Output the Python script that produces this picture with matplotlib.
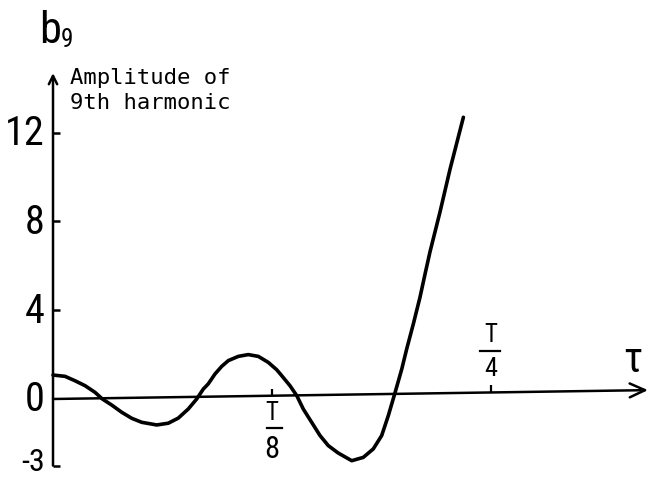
import numpy as np
import matplotlib
matplotlib.use("Agg")
import matplotlib.pyplot as plt

# b9 curve, tau given as a fraction of the period T
tau = [0.0, 0.0069, 0.0126, 0.0183, 0.0240, 0.0282, 0.0335, 0.0393, 0.0450, 0.0507,
       0.0593, 0.0659, 0.0716, 0.0773, 0.0821, 0.0859, 0.0887, 0.0926, 0.0964, 0.1002,
       0.1059, 0.1116, 0.1173, 0.1230, 0.1278, 0.1307, 0.1354, 0.1393, 0.1430, 0.1478,
       0.1526, 0.1573, 0.1629, 0.1707, 0.1773, 0.1830, 0.1878, 0.1916, 0.1954, 0.1993,
       0.2021, 0.2059, 0.2097, 0.2126, 0.2154, 0.2211, 0.2269, 0.2345]
b9 = [1.08, 1.02, 0.82, 0.60, 0.30, 0.00, -0.27, -0.60, -0.87, -1.05,
      -1.17, -1.09, -0.86, -0.45, 0.00, 0.45, 0.68, 1.13, 1.47, 1.73,
      1.92, 2.00, 1.92, 1.65, 1.32, 1.05, 0.60, 0.15, -0.45, -1.05,
      -1.65, -2.10, -2.43, -2.78, -2.63, -2.25, -1.65, -0.75, 0.27, 1.35,
      2.25, 3.38, 4.58, 5.63, 6.62, 8.41, 10.36, 12.69]

y_ticks = [12, 8, 4, 0, -3]
y_tick_labels = ["12", "8", "4", "0", "-3"]
x_ticks = [0.125, 0.25]
x_tick_denoms = ["8", "4"]

narrow = ["Roboto Condensed", "Liberation Sans", "DejaVu Sans"]
mono = ["DejaVu Sans Mono", "DejaVu Sans"]

fig = plt.figure(figsize=(6.49, 4.81), dpi=100)
ax = fig.add_axes([0, 0, 1, 1])
ax.set_xlim(-0.03029, 0.34057)
ax.set_ylim(-3.649, 18.018)
ax.axis("off")

# curve
ax.plot(tau, b9, color="black", lw=2.6, solid_capstyle="round", solid_joinstyle="round")

# axes with open arrow heads; the tau axis runs slightly uphill
x_end, x_rise = 0.340, 0.40
def axis_y(t):
    return x_rise * t / x_end

ax.annotate("", xy=(x_end, axis_y(x_end)), xytext=(0, 0),
            arrowprops=dict(arrowstyle="->,head_length=1.1,head_width=0.5",
                            lw=1.8, color="black", shrinkA=0, shrinkB=0))
ax.annotate("", xy=(0, 14.68), xytext=(0, -3),
            arrowprops=dict(arrowstyle="->,head_length=0.6,head_width=0.3",
                            lw=1.8, color="black", shrinkA=0, shrinkB=0))

# y ticks point to the right of the axis
for v, lab in zip(y_ticks, y_tick_labels):
    if v != 0:
        ax.plot([0, 0.0042], [v, v], color="black", lw=1.8, solid_capstyle="butt")
    if v == -3:
        # bottom label sits a touch higher so it stays inside the canvas
        ax.text(-0.0046, v + 0.2, lab, ha="right", va="center", fontsize=23, family=narrow)
    else:
        ax.text(-0.0046, v, lab, ha="right", va="center", fontsize=29, family=narrow)

# x ticks point upward, labels as T over n
for t, d in zip(x_ticks, x_tick_denoms):
    y0 = axis_y(t)
    ax.plot([t, t], [y0, y0 + 0.32], color="black", lw=1.6, solid_capstyle="butt")

ax.text(0.125, -0.59, "T", ha="center", va="center", fontsize=18, family=narrow)
ax.plot([0.1223, 0.1309], [-1.31, -1.31], color="black", lw=1.6)
ax.text(0.125, -2.21, "8", ha="center", va="center", fontsize=22, family=narrow)

ax.text(0.25, 2.93, "T", ha="center", va="center", fontsize=18, family=narrow)
ax.plot([0.2440, 0.2554], [2.16, 2.16], color="black", lw=1.6)
ax.text(0.25, 1.40, "4", ha="center", va="center", fontsize=19, family=narrow)

ax.text(0.3314, 1.80, "τ", ha="center", va="center", fontsize=30, family=narrow)

# axis title
ax.text(-0.0080, 16.08, "b", ha="left", va="baseline", fontsize=32, family=narrow)
ax.text(0.0046, 15.90, "9", ha="left", va="baseline", fontsize=18, family=narrow)
ax.text(0.0097, 14.95, "Amplitude of\n9th harmonic", ha="left", va="top",
        fontsize=16, family=mono, linespacing=1.33)

fig.savefig("out.png", dpi=100)
